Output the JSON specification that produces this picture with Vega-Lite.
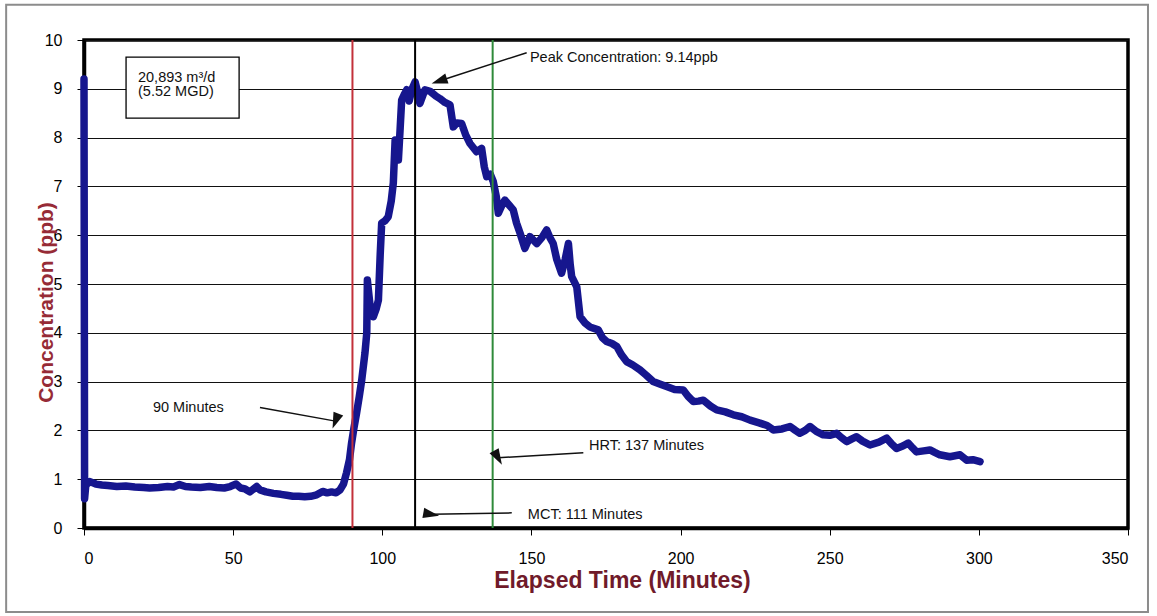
{
  "$schema": "https://vega.github.io/schema/vega-lite/v6.json",
  "width": 1044,
  "height": 488,
  "autosize": "none",
  "padding": {"left": 84, "top": 40, "right": 29, "bottom": 88},
  "background": "white",
  "config": {
    "font": "Liberation Sans",
    "view": {"stroke": "black", "strokeWidth": 3.5}
  },
  "datasets": {
    "curve": [
      {"t": 0, "c": 9.2}, {"t": 0.2, "c": 0.6}, {"t": 0.6, "c": 0.88}, {"t": 2, "c": 0.95}, {"t": 4, "c": 0.9},
      {"t": 6, "c": 0.88}, {"t": 8, "c": 0.87}, {"t": 11, "c": 0.85}, {"t": 14, "c": 0.86}, {"t": 17, "c": 0.84},
      {"t": 20, "c": 0.83}, {"t": 22, "c": 0.82}, {"t": 25, "c": 0.83}, {"t": 28, "c": 0.85}, {"t": 30, "c": 0.84},
      {"t": 32, "c": 0.89}, {"t": 34, "c": 0.85}, {"t": 36, "c": 0.84}, {"t": 39, "c": 0.83}, {"t": 42, "c": 0.85},
      {"t": 44.5, "c": 0.83}, {"t": 47, "c": 0.82}, {"t": 49, "c": 0.85}, {"t": 51, "c": 0.9}, {"t": 52.5, "c": 0.82},
      {"t": 54, "c": 0.8}, {"t": 55.6, "c": 0.74}, {"t": 57.9, "c": 0.85}, {"t": 59, "c": 0.78}, {"t": 61, "c": 0.74},
      {"t": 63.5, "c": 0.71}, {"t": 66, "c": 0.69}, {"t": 68, "c": 0.67}, {"t": 70, "c": 0.65}, {"t": 72, "c": 0.65},
      {"t": 74, "c": 0.64}, {"t": 76, "c": 0.65}, {"t": 78, "c": 0.68}, {"t": 80, "c": 0.75}, {"t": 81.5, "c": 0.72},
      {"t": 83, "c": 0.74}, {"t": 84.5, "c": 0.72}, {"t": 85.8, "c": 0.78}, {"t": 87, "c": 0.9}, {"t": 88, "c": 1.13},
      {"t": 89, "c": 1.4}, {"t": 89.7, "c": 1.74}, {"t": 90.5, "c": 2.05}, {"t": 91.4, "c": 2.36}, {"t": 92.3, "c": 2.7},
      {"t": 93.1, "c": 3.03}, {"t": 94.2, "c": 3.59}, {"t": 94.8, "c": 4.0}, {"t": 95.0, "c": 5.08}, {"t": 95.3, "c": 4.9},
      {"t": 96, "c": 4.5}, {"t": 97, "c": 4.33}, {"t": 98, "c": 4.5}, {"t": 98.7, "c": 4.67}, {"t": 99.3, "c": 5.6},
      {"t": 99.8, "c": 6.25}, {"t": 101, "c": 6.3}, {"t": 102, "c": 6.38}, {"t": 103, "c": 6.7}, {"t": 103.7, "c": 7.07},
      {"t": 104.3, "c": 7.95}, {"t": 105.4, "c": 7.54}, {"t": 106, "c": 8.2}, {"t": 106.5, "c": 8.77}, {"t": 107.5, "c": 8.9},
      {"t": 108.2, "c": 8.98}, {"t": 109, "c": 8.75}, {"t": 110, "c": 9.0}, {"t": 111, "c": 9.14}, {"t": 112, "c": 8.9},
      {"t": 112.6, "c": 8.7}, {"t": 113.5, "c": 8.85}, {"t": 114.3, "c": 8.98}, {"t": 116, "c": 8.95}, {"t": 118, "c": 8.85},
      {"t": 119.3, "c": 8.8}, {"t": 121, "c": 8.72}, {"t": 122.7, "c": 8.67}, {"t": 123.8, "c": 8.22}, {"t": 125, "c": 8.3},
      {"t": 126.6, "c": 8.29}, {"t": 128, "c": 8.05}, {"t": 129.4, "c": 7.88}, {"t": 131.6, "c": 7.71}, {"t": 133.3, "c": 7.78},
      {"t": 134.2, "c": 7.4}, {"t": 135, "c": 7.2}, {"t": 136.2, "c": 7.25}, {"t": 137.2, "c": 7.1}, {"t": 138.2, "c": 6.8},
      {"t": 138.9, "c": 6.45}, {"t": 140, "c": 6.6}, {"t": 141.1, "c": 6.72}, {"t": 142.5, "c": 6.62}, {"t": 143.9, "c": 6.52},
      {"t": 145, "c": 6.25}, {"t": 146.2, "c": 6.04}, {"t": 147.8, "c": 5.73}, {"t": 149.5, "c": 5.97}, {"t": 151.8, "c": 5.83},
      {"t": 153.5, "c": 5.95}, {"t": 155.1, "c": 6.11}, {"t": 156.2, "c": 5.95}, {"t": 157.3, "c": 5.83}, {"t": 158.5, "c": 5.5},
      {"t": 160.1, "c": 5.22}, {"t": 161.3, "c": 5.5}, {"t": 162.4, "c": 5.83}, {"t": 163.0, "c": 5.4}, {"t": 163.5, "c": 5.15},
      {"t": 165.2, "c": 4.94}, {"t": 166.3, "c": 4.33}, {"t": 168, "c": 4.2}, {"t": 169.6, "c": 4.12}, {"t": 172.4, "c": 4.06},
      {"t": 173.8, "c": 3.9}, {"t": 175.2, "c": 3.82}, {"t": 177, "c": 3.78}, {"t": 178.6, "c": 3.72}, {"t": 180.2, "c": 3.55},
      {"t": 181.9, "c": 3.41}, {"t": 184, "c": 3.34}, {"t": 186.4, "c": 3.24}, {"t": 188.5, "c": 3.13}, {"t": 190.8, "c": 3.0},
      {"t": 193, "c": 2.95}, {"t": 195.3, "c": 2.9}, {"t": 198, "c": 2.84}, {"t": 200.9, "c": 2.83}, {"t": 202.5, "c": 2.7},
      {"t": 204.3, "c": 2.59}, {"t": 206, "c": 2.6}, {"t": 207.6, "c": 2.62}, {"t": 210, "c": 2.5}, {"t": 212.1, "c": 2.42},
      {"t": 215, "c": 2.38}, {"t": 217.7, "c": 2.32}, {"t": 220.5, "c": 2.28}, {"t": 223.3, "c": 2.21}, {"t": 226.6, "c": 2.15},
      {"t": 229, "c": 2.1}, {"t": 231.1, "c": 2.01}, {"t": 234, "c": 2.03}, {"t": 236.7, "c": 2.08}, {"t": 238.5, "c": 2.0},
      {"t": 240, "c": 1.94}, {"t": 241.8, "c": 2.0}, {"t": 243.4, "c": 2.08}, {"t": 245.5, "c": 1.98}, {"t": 247.8, "c": 1.91},
      {"t": 250, "c": 1.9}, {"t": 252.3, "c": 1.94}, {"t": 254, "c": 1.85}, {"t": 255.7, "c": 1.77}, {"t": 257.3, "c": 1.82},
      {"t": 259, "c": 1.87}, {"t": 261, "c": 1.78}, {"t": 263.5, "c": 1.7}, {"t": 266.5, "c": 1.76}, {"t": 269.1, "c": 1.84},
      {"t": 270.8, "c": 1.72}, {"t": 272.4, "c": 1.63}, {"t": 274.5, "c": 1.68}, {"t": 276.3, "c": 1.74}, {"t": 277.8, "c": 1.64},
      {"t": 279.1, "c": 1.56}, {"t": 281.5, "c": 1.58}, {"t": 283.6, "c": 1.6}, {"t": 285.2, "c": 1.55}, {"t": 286.9, "c": 1.5},
      {"t": 290.3, "c": 1.46}, {"t": 293.7, "c": 1.5}, {"t": 295.9, "c": 1.39}, {"t": 298, "c": 1.4}, {"t": 300.4, "c": 1.36}
    ],
    "vlines": [
      {"t": 90, "line": "90"}, {"t": 111, "line": "111"}, {"t": 137, "line": "137"}
    ],
    "notes": [
      {"t": 149.5, "c": 9.63, "label": "Peak Concentration: 9.14ppb"},
      {"t": 23.1, "c": 2.46, "label": "90 Minutes"},
      {"t": 169.3, "c": 1.68, "label": "HRT: 137 Minutes"},
      {"t": 148.8, "c": 0.27, "label": "MCT: 111 Minutes"},
      {"t": 18.1, "c": 9.23, "label": "20,893 m³/d"},
      {"t": 18.1, "c": 8.94, "label": "(5.52 MGD)"}
    ],
    "arrows": [
      {"t": 148.4, "c": 9.74, "t2": 119.1, "c2": 9.16},
      {"t": 59.0, "c": 2.47, "t2": 84.3, "c2": 2.19},
      {"t": 167.4, "c": 1.54, "t2": 138.8, "c2": 1.44},
      {"t": 143.4, "c": 0.31, "t2": 116.4, "c2": 0.28}
    ],
    "heads": [
      {"t": 119.1, "c": 9.16, "dir": "peak"},
      {"t": 84.3, "c": 2.19, "dir": "ninety"},
      {"t": 138.8, "c": 1.44, "dir": "hrt"},
      {"t": 116.4, "c": 0.28, "dir": "mct"}
    ],
    "box": [{"t": 14.1, "t2": 52.0, "c": 9.65, "c2": 8.4}],
    "frame": [{"t": -26.1, "t2": 356.7, "c": 10.72, "c2": -1.72}]
  },
  "encoding": {
    "x": {
      "field": "t", "type": "quantitative",
      "scale": {"domain": [0, 350], "nice": false, "zero": false},
      "axis": {
        "values": [0, 50, 100, 150, 200, 250, 300, 350],
        "title": "Elapsed Time (Minutes)",
        "titleFont": "Liberation Sans", "titleFontSize": 23, "titleFontWeight": "bold", "titleColor": "#701a2a",
        "titleX": 538, "titleY": 59, "titleBaseline": "alphabetic",
        "labelFontSize": 16, "labelColor": "#000", "labelPadding": 15, "labelFontWeight": "normal",
        "tickSize": 7, "tickColor": "#000", "tickWidth": 1,
        "domainColor": "#000", "domainWidth": 3.5, "grid": false
      }
    },
    "y": {
      "field": "c", "type": "quantitative",
      "scale": {"domain": [0, 10], "nice": false},
      "axis": {
        "values": [0, 1, 2, 3, 4, 5, 6, 7, 8, 9, 10],
        "title": "Concentration (ppb)",
        "titleFont": "Liberation Sans", "titleFontSize": 21, "titleFontWeight": "bold", "titleColor": "#962b36",
        "titleX": -38, "titleY": 262, "titleAngle": 270, "titleAlign": "center", "titleBaseline": "middle",
        "labelFontSize": 16, "labelColor": "#000", "labelPadding": 15,
        "tickSize": 7, "tickColor": "#000", "tickWidth": 1,
        "domainColor": "#000", "domainWidth": 3.5,
        "grid": true, "gridColor": "#111", "gridWidth": 1.2
      }
    }
  },
  "layer": [
    {
      "data": {"name": "frame"},
      "mark": {"type": "rect", "fill": "transparent", "stroke": "#8c8c8c", "strokeWidth": 2, "clip": false},
      "encoding": {
        "x2": {"field": "t2"},
        "y2": {"field": "c2"}
      }
    },
    {
      "data": {"name": "curve"},
      "mark": {"type": "line", "color": "#16168e", "strokeWidth": 7.5, "strokeJoin": "round", "strokeCap": "round"}
    },
    {
      "data": {"name": "vlines"},
      "mark": {"type": "rule", "strokeWidth": 2},
      "encoding": {
        "y": null,
        "color": {"field": "line", "type": "nominal", "scale": {"domain": ["90", "111", "137"], "range": ["#c3303a", "#000000", "#2f8a3a"]}, "legend": null}
      }
    },
    {
      "data": {"name": "box"},
      "mark": {"type": "rect", "fill": "white", "stroke": "black", "strokeWidth": 1.3},
      "encoding": {
        "x2": {"field": "t2"},
        "y2": {"field": "c2"}
      }
    },
    {
      "data": {"name": "arrows"},
      "mark": {"type": "rule", "color": "#111", "strokeWidth": 1.5},
      "encoding": {
        "x2": {"field": "t2"},
        "y2": {"field": "c2"}
      }
    },
    {
      "data": {"name": "heads"},
      "mark": {"type": "point", "shape": "M-1,-0.65L1,0L-1,0.65Z", "size": 256, "filled": true, "color": "#111", "opacity": 1},
      "encoding": {
        "angle": {"field": "dir", "type": "nominal", "scale": {"domain": ["peak", "ninety", "hrt", "mct"], "range": [162, 10, 176.5, 179]}, "legend": null}
      }
    },
    {
      "data": {"name": "notes"},
      "mark": {"type": "text", "align": "left", "baseline": "middle", "fontSize": 14.5, "font": "Liberation Sans", "color": "#111"},
      "encoding": {
        "text": {"field": "label"}
      }
    }
  ]
}
